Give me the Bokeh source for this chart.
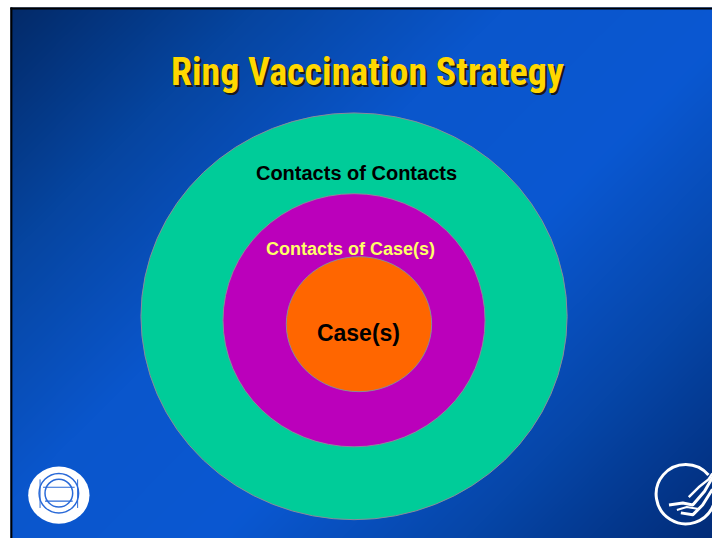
import numpy as np
from bokeh.plotting import figure
from bokeh.models import Range1d
from bokeh.core.properties import value
from bokeh.embed import file_html
from bokeh.resources import INLINE

# ---- data ----
title_text = "Ring Vaccination Strategy"
ring_labels = ["Contacts of Contacts", "Contacts of Case(s)", "Case(s)"]
ring_colors = ["#00cc99", "#bb00bb", "#ff6600"]
ring_cx = [357.5, 357.5, 362.5]
ring_cy = [320.5, 324.5, 328.5]
ring_w = [431, 265, 147]
ring_h = [413, 257, 137]
label_x = [360, 354, 362]
label_y = [175, 252, 337]
label_colors = ["#000000", "#ffff66", "#000000"]
label_sizes = ["20px", "18px", "23px"]

# figure size fits the 720x546 window with its 8px margin;
# the drawing space uses the slide's own 720x546 coordinates
W, H = 712, 538
SW, SH = 720, 546


def Y(v):
    # convert slide row (top-down) to data y (bottom-up)
    return SH - np.asarray(v, dtype=float)


p = figure(width=W, height=H, x_range=Range1d(0, SW), y_range=Range1d(0, SH),
           output_backend="svg", toolbar_location=None, min_border=0,
           background_fill_color="white", border_fill_color="white")
p.axis.visible = False
p.grid.visible = False
p.outline_line_color = None

# ---- background gradient (135deg: dark -> bright -> dark) ----
x0, y0 = 10, 7
gw, gh = SW - x0, SH - y0
xs = np.arange(gw) + x0 + 0.5
rows = np.arange(gh)
ypix = SH - rows - 0.5
XX, YY = np.meshgrid(xs, ypix)
t = ((XX - x0) + (YY - y0)) / (gw + gh)
stops = [0.0, 0.2, 0.4, 0.6, 0.8, 1.0]
cols = ["#032a68", "#0645a0", "#0a56cc", "#0a58d2", "#0646a8", "#022c78"]
rgb = np.array([[int(c[i:i + 2], 16) for i in (1, 3, 5)] for c in cols], dtype=float)
R = np.interp(t, stops, rgb[:, 0]).astype(np.uint32)
G = np.interp(t, stops, rgb[:, 1]).astype(np.uint32)
B = np.interp(t, stops, rgb[:, 2]).astype(np.uint32)
img = (255 << 24) | (B << 16) | (G << 8) | R
p.image_rgba(image=[img.astype(np.uint32)], x=x0, y=0, dw=gw, dh=gh)

# slide border (top and left visible)
p.segment(x0=[10, 11], y0=[Y(8), Y(7)], x1=[SW, 11], y1=[Y(8), 0],
          line_color="black", line_width=2)

# ---- rings ----
p.ellipse(x=ring_cx, y=Y(ring_cy), width=ring_w, height=ring_h,
          fill_color=ring_colors, line_color="#8a8a9a", line_width=1)

# ---- ring labels ----
for lx, ly, txt, c, s in zip(label_x, label_y, ring_labels, label_colors, label_sizes):
    p.text(x=[lx], y=[Y(ly)], text=[txt], text_align="center", text_baseline="alphabetic",
           text_color=c, text_font_size=s, text_font_style="bold",
           text_font=value("Liberation Sans, Arial, sans-serif"))

# ---- title with drop shadow ----
tfont = value("Liberation Sans Narrow, Arial Narrow, Roboto Condensed, sans-serif")
p.text(x=[371 + 2], y=[Y(73 + 2)], text=[title_text], text_align="center",
       text_baseline="alphabetic", text_color="#1a1a1a", text_font_size="38px",
       text_font_style="bold", text_font=tfont)
p.text(x=[371], y=[Y(73)], text=[title_text], text_align="center",
       text_baseline="alphabetic", text_color="#ffd700", text_font_size="38px",
       text_font_style="bold", text_font=tfont)

# ---- WHO emblem (approximation) ----
p.ellipse(x=[59], y=Y([502]), width=[62], height=[58], fill_color="white", line_color=None)
p.circle(x=[59, 59], y=Y([500, 500]), radius=[20, 14], fill_color=None,
         line_color="#2a6ad8", line_width=1.5)
p.segment(x0=[43, 45], y0=Y([494, 508]), x1=[75, 73], y1=Y([494, 508]),
          line_color="#2a6ad8", line_width=1.2)
p.segment(x0=[40, 78], y0=Y([486, 486]), x1=[40, 78], y1=Y([515, 515]),
          line_color="#2a6ad8", line_width=1)

# ---- HHS emblem (approximation) ----
p.arc(x=[693], y=Y([501]), radius=30, start_angle=0.7, end_angle=5.9,
      line_color="white", line_width=3)
p.line(x=[676, 690, 700, 712, 720], y=Y([512, 510, 512, 498, 484]), line_color="white", line_width=3)
p.line(x=[688, 700, 710, 720], y=Y([520, 522, 512, 496]), line_color="white", line_width=3)
p.line(x=[696, 706, 716, 720], y=Y([504, 494, 486, 480]), line_color="white", line_width=2.5)
p.line(x=[684, 694, 706], y=Y([517, 514, 516]), line_color="white", line_width=2)

open("out.html", "w").write(file_html(p, INLINE))
